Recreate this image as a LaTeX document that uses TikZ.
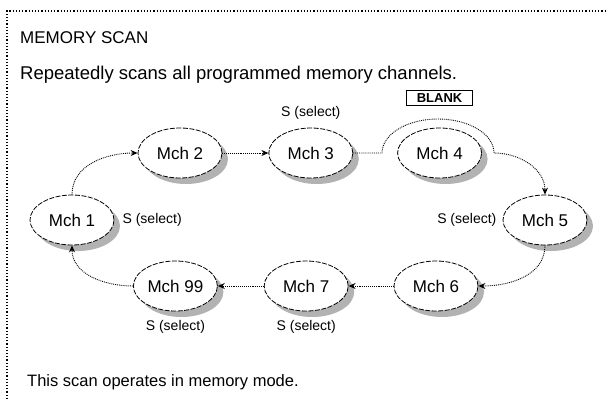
\documentclass[tikz,border=0pt]{standalone}
\usepackage{fontspec}
\setmainfont{Liberation Sans}
\usetikzlibrary{shapes.geometric, arrows.meta, positioning, shadows}

\begin{document}
\begin{tikzpicture}[
    x=1pt, y=1pt,
    every node/.style={font=\fontsize{17}{20}\selectfont, inner sep=0pt},
    chan/.style={draw, ellipse, line width=0.8pt, dash pattern=on 5pt off 1.5pt, fill=white, minimum width=84pt, minimum height=50pt,
      drop shadow={shadow xshift=6pt, shadow yshift=-6pt, fill=black!30, opacity=1}},
    sel/.style={font=\fontsize{14}{16}\selectfont},
    note/.style={anchor=base west},
    arr/.style={-{Stealth[length=7pt, width=6pt]}, line width=0.9pt, densely dotted}
  ]
  \useasboundingbox (0,0) rectangle (608,-399);
  \draw[line width=1.2pt, dotted] (7,-399) -- (7,-11) -- (608,-11);

  \node[note] (title) at (20,-43) {MEMORY SCAN};
  \node[note, font=\fontsize{18.5}{22}\selectfont] (intro) at (20,-79) {Repeatedly scans all programmed memory channels.};
  \node[note, font=\fontsize{16.5}{20}\selectfont] (outro) at (27,-386) {This scan operates in memory mode.};

  \node[chan] (ch1) at (72,-220) {Mch 1};
  \node[chan] (ch2) at (180,-153) {Mch 2};
  \node[chan, right=46pt of ch2] (ch3) {Mch 3};
  \node[chan, right=44pt of ch3] (ch4) {Mch 4};
  \node[chan] (ch5) at (545,-220) {Mch 5};
  \node[chan] (ch6) at (436,-286) {Mch 6};
  \node[chan, left=45pt of ch6] (ch7) {Mch 7};
  \node[chan, left=46pt of ch7] (ch99) {Mch 99};

  \node[sel, right=8pt of ch1] (sel1) {S (select)};
  \node[sel, above=8pt of ch3] (sel3) {S (select)};
  \node[sel, left=6pt of ch5] (sel5) {S (select)};
  \node[sel, below=9pt of ch99] (sel99) {S (select)};
  \node[sel, below=9pt of ch7] (sel7) {S (select)};
  \node[draw, line width=1pt, minimum width=66pt, minimum height=15pt, font=\fontsize{13}{15}\selectfont\bfseries, above=22pt of ch4] (blank) {BLANK};

  \coordinate (skipL) at (382,-153);

  \draw[arr] (ch1.north) to[out=90, in=180] (ch2.west);
  \draw[arr] (ch2.east) -- (ch3.west);
  \draw[arr] (ch3.east) -- (skipL) arc[start angle=180, end angle=0, x radius=56, y radius=34] to[out=0, in=90] (ch5.north);
  \draw[arr] (ch5.south) to[out=-90, in=0] (ch6.east);
  \draw[arr] (ch6.west) -- (ch7.east);
  \draw[arr] (ch7.west) -- (ch99.east);
  \draw[arr] (ch99.west) to[out=180, in=-90] (ch1.south);
\end{tikzpicture}
\end{document}
